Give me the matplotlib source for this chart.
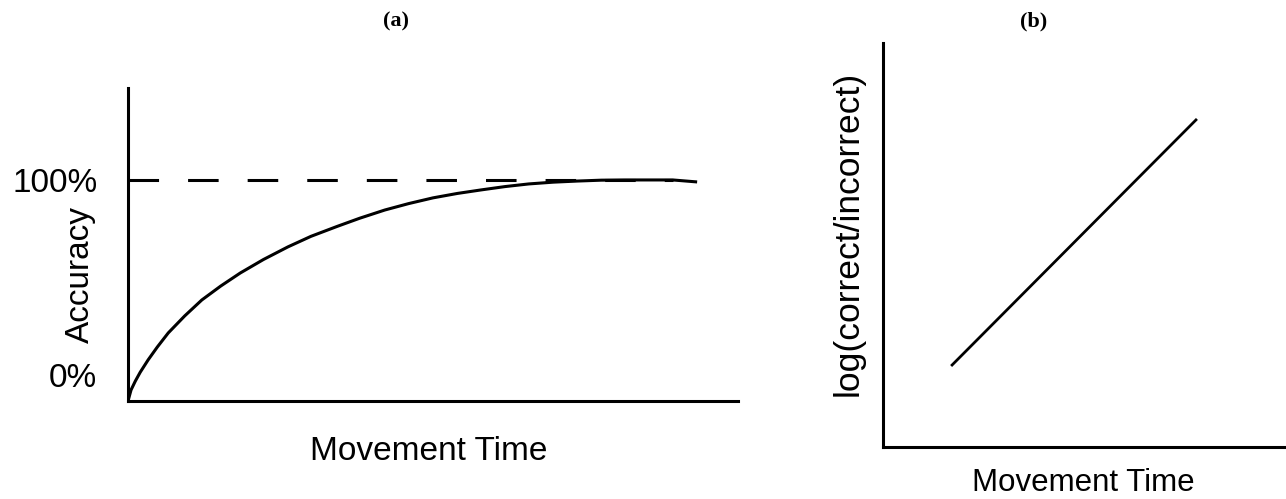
import matplotlib
matplotlib.use("Agg")
import matplotlib.pyplot as plt
import matplotlib.transforms as mtransforms

plt.rcParams['font.family'] = ['Liberation Sans', 'DejaVu Sans']

# panel (a): accuracy vs movement time (schematic)
mt_a = [0.0, 0.005, 0.012, 0.020, 0.033, 0.048, 0.066, 0.093, 0.121, 0.152, 0.184,
        0.222, 0.262, 0.300, 0.343, 0.380, 0.421, 0.460, 0.500, 0.540, 0.579,
        0.618, 0.657, 0.697, 0.736, 0.776, 0.815, 0.855, 0.893, 0.933]
acc_a = [0.0, 5.0, 9.0, 13.0, 18.6, 24.4, 30.8, 38.5, 45.7, 52.0, 57.9,
         64.0, 69.7, 74.5, 79.0, 82.7, 86.4, 89.3, 91.9, 93.9, 95.5,
         97.0, 98.2, 99.0, 99.5, 99.9, 100.0, 100.0, 100.0, 99.1]
ceiling_x = [0.0, 0.893]
ceiling_y = [100, 100]
tick_pos_a = [0, 100]
tick_lab_a = ["0%", "100%"]

# panel (b): log odds vs movement time
mt_b = [0.169, 0.779]
logodds_b = [0.2005, 0.812]

fig = plt.figure(figsize=(12.86, 4.99), dpi=100)

ax1 = fig.add_axes([128 / 1286, 1 - 401 / 499, 610 / 1286, 313 / 499])
ax2 = fig.add_axes([883 / 1286, 1 - 447 / 499, 403 / 1286, 404 / 499])

lw = 2.2
for ax in (ax1, ax2):
    for s in ("top", "right"):
        ax.spines[s].set_visible(False)
    for s in ("left", "bottom"):
        ax.spines[s].set_linewidth(lw)
        ax.spines[s].set_color("black")
    ax.set_xticks([])

ax1.plot(mt_a, acc_a, color="black", lw=lw, solid_capstyle="butt",
         solid_joinstyle="round")
ax1.plot(ceiling_x, ceiling_y, color="black", lw=lw, dashes=(10, 9.5),
         dash_capstyle="butt")
ax1.set_xlim(0, 1)
ax1.set_ylim(0, 141.6)
ax1.set_yticks(tick_pos_a)
ax1.set_yticklabels(tick_lab_a, fontsize=24)
ax1.tick_params(axis="y", length=0, pad=22)
# lift the "0%" label a little above the origin, as in the source figure
lab0 = ax1.get_yticklabels()[0]
lab0.set_transform(lab0.get_transform() +
                   mtransforms.ScaledTranslation(0, 26 / 100, fig.dpi_scale_trans))
ax1.set_ylabel("Accuracy", fontsize=24, va="center")
ax1.yaxis.set_label_coords(-0.0787, 0.403)
ax1.set_xlabel("Movement Time", fontsize=24, va="center")
ax1.xaxis.set_label_coords(0.493, -0.160)

ax2.plot(mt_b, logodds_b, color="black", lw=lw * 0.9, solid_capstyle="butt")
ax2.set_xlim(0, 1)
ax2.set_ylim(0, 1)
ax2.set_yticks([])
ax2.set_ylabel("log(correct/incorrect)", fontsize=25.5, va="center")
ax2.yaxis.set_label_coords(-0.0868, 0.53)
ax2.set_xlabel("Movement Time", fontsize=22.5, va="center")
ax2.xaxis.set_label_coords(0.496, -0.089)

fig.text(396 / 1286, 1 - 21 / 499, "(a)", ha="center", va="center",
         fontsize=16, fontweight="bold", family=["Liberation Serif", "DejaVu Serif"])
fig.text(1034 / 1286, 1 - 21 / 499, "(b)", ha="center", va="center",
         fontsize=16, fontweight="bold", family=["Liberation Serif", "DejaVu Serif"])

fig.savefig("out.png", dpi=100)
